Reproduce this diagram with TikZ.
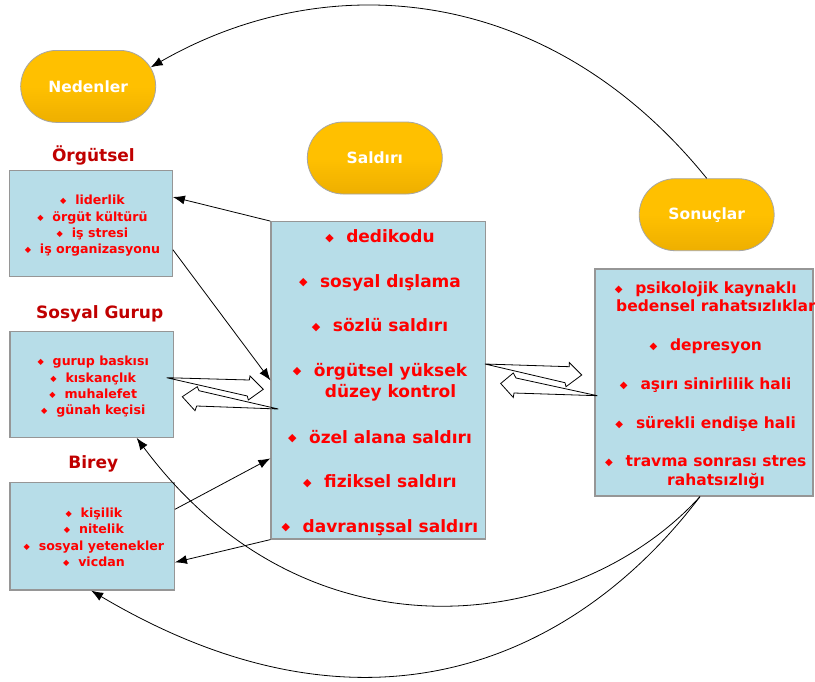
\documentclass[tikz,border=0pt]{standalone}
\usepackage{fontspec}
\usepackage{graphicx}
\setmainfont{DejaVu Sans}
\usetikzlibrary{shapes.misc,arrows.meta,calc}
\definecolor{gold}{RGB}{255,192,0}
\definecolor{golddk}{RGB}{238,175,0}
\definecolor{boxblue}{RGB}{183,221,232}
\definecolor{boxline}{RGB}{150,150,150}
\definecolor{itemred}{RGB}{255,0,0}
\definecolor{titred}{RGB}{192,0,0}
\newcommand\bul[1]{\llap{\raisebox{0.08em}{\scalebox{0.65}{◆}}\hspace{#1}}}
\begin{document}
\begin{tikzpicture}[x=1pt,y=-1pt,
  pill/.style={rounded rectangle, minimum width=135pt, minimum height=72pt, inner sep=0pt,
    draw=gray!70, line width=0.8pt, top color=gold, bottom color=golddk, middle color=gold,
    text=white, font=\fontsize{15.5}{18}\selectfont\bfseries},
  bx/.style={draw=boxline, fill=boxblue, line width=1.2pt, inner sep=0pt},
  tit/.style={text=titred, font=\fontsize{17}{20}\selectfont\bfseries, inner sep=0pt, anchor=mid},
  itl/.style={text=itemred, font=\fontsize{12.6}{15}\selectfont\bfseries, inner sep=0pt, anchor=mid},
  itc/.style={text=itemred, font=\fontsize{17}{21}\selectfont\bfseries, inner sep=0pt, anchor=mid},
  itr/.style={text=itemred, font=\fontsize{15.5}{19}\selectfont\bfseries, inner sep=0pt, anchor=mid},
  arr/.style={-{Latex[length=12pt,width=9pt]}, line width=0.8pt},
  blk/.style={draw=black, fill=white, line width=0.8pt, line join=miter}
]
\clip (0,0) rectangle (815,681);
\fill[white] (0,0) rectangle (815,681);

% pills
\node[pill] (ned) at (88.2,86.4) {Nedenler};
\node[pill] (sal) at (374.8,158) {Saldırı};
\node[pill] (son) at (706.7,214.7) {Sonuçlar};

% titles
\node[tit] (torg) at (93.4,158.5) {Örgütsel};
\node[tit] (tsos) at (99.7,315.5) {Sosyal Gurup};
\node[tit] (tbir) at (93.3,465.5) {Birey};

% boxes
\node[bx, minimum width=163pt, minimum height=106pt] (org) at (90.8,223.7) {};
\node[bx, minimum width=163.3pt, minimum height=105.6pt] (sos) at (91.65,384.5) {};
\node[bx, minimum width=164.3pt, minimum height=107.3pt] (bir) at (92.15,536.35) {};
\node[bx, minimum width=214.3pt, minimum height=317.3pt] (cen) at (378.15,380.35) {};
\node[bx, minimum width=218pt, minimum height=227pt] (rb) at (704,382.5) {};

% Orgutsel items
\node[itl] (o1) at (100,202) {\bul{8.8pt}liderlik};
\node[itl] (o2) at (100,218.7) {\bul{8.8pt}örgüt kültürü};
\node[itl] (o3) at (100,234.3) {\bul{8.8pt}iş stresi};
\node[itl] (o4) at (100,251) {\bul{8.8pt}iş organizasyonu};
% Sosyal items
\node[itl] (s1) at (100.8,363) {\bul{8.8pt}gurup baskısı};
\node[itl] (s2) at (100.8,379.3) {\bul{8.8pt}kıskançlık};
\node[itl] (s3) at (100.8,396) {\bul{8.8pt}muhalefet};
\node[itl] (s4) at (100.8,412) {\bul{8.8pt}günah keçisi};
% Birey items
\node[itl] (b1) at (101.5,514.7) {\bul{8.8pt}kişilik};
\node[itl] (b2) at (101.5,531) {\bul{8.8pt}nitelik};
\node[itl] (b3) at (101.5,547.3) {\bul{8.8pt}sosyal yetenekler};
\node[itl] (b4) at (101.5,564) {\bul{8.8pt}vicdan};
% Center items
\node[itc] (c1) at (390.5,240) {\bul{12.5pt}dedikodu};
\node[itc] (c2) at (390.5,284.5) {\bul{12.5pt}sosyal dışlama};
\node[itc] (c3) at (390.5,329) {\bul{12.5pt}sözlü saldırı};
\node[itc] (c4a) at (390.5,373.5) {\bul{12.5pt}örgütsel yüksek};
\node[itc] (c4b) at (390.5,394.7) {düzey kontrol};
\node[itc] (c5) at (390.5,440.5) {\bul{12.5pt}özel alana saldırı};
\node[itc] (c6) at (390.5,485) {\bul{12.5pt}fiziksel saldırı};
\node[itc] (c7) at (390.5,529.5) {\bul{12.5pt}davranışsal saldırı};
% Right items
\node[itr] (r1a) at (716,290.5) {\bul{12.8pt}psikolojik kaynaklı};
\node[itr] (r1b) at (716,308.5) {bedensel rahatsızlıklar};
\node[itr] (r2) at (716,347.5) {\bul{12.8pt}depresyon};
\node[itr] (r3) at (716,386.5) {\bul{12.8pt}aşırı sinirlilik hali};
\node[itr] (r4) at (716,425.5) {\bul{12.8pt}sürekli endişe hali};
\node[itr] (r5a) at (716,464.2) {\bul{12.8pt}travma sonrası stres};
\node[itr] (r5b) at (716,483.2) {rahatsızlığı};

% straight arrows
\draw[arr] (cen.north west) -- ([yshift=26.7pt]org.east);
\draw[arr] ([yshift=-26pt]org.east) -- (cen.west);
\draw[arr] ([yshift=27pt]bir.east) -- ([yshift=-78pt]cen.west);
\draw[arr] (cen.south west) -- ([yshift=-26pt]bir.east);

% block arrows (left pair)
\draw[blk] (166.7,377.7) -- (249.3,380) -- (250,376) -- (263.3,389.3) -- (248.3,400) -- (247.3,396) -- cycle;
\draw[blk] (278.3,409) -- (199,390.7) -- (197.3,386.7) -- (182.3,396.7) -- (195,410.7) -- (196.7,406) -- cycle;
% block arrows (right pair)
\draw[blk] (485,364) -- (569.3,366.7) -- (569.3,362.5) -- (581.7,375) -- (566,386.7) -- (565,382.7) -- cycle;
\draw[blk] (597.3,395.7) -- (516,378) -- (513.3,373) -- (500.7,383.5) -- (513.3,397.5) -- (514,393) -- cycle;

% curved arrows
\draw[arr] (son.north) .. controls (548.5,-17) and (327,-34) .. (ned.17);
\draw[arr] ([xshift=-4pt]rb.south) .. controls (579,630) and (311,672) .. ([xshift=45pt]sos.south);
\draw[arr] ([xshift=-4pt]rb.south) .. controls (580,655) and (372,757) .. ([xshift=-1pt]bir.south);
\end{tikzpicture}
\end{document}
